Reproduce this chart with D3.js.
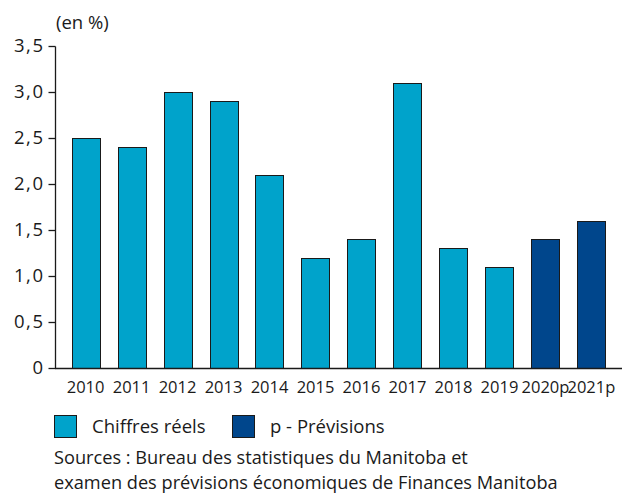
<!DOCTYPE html>
<html>
<head>
<meta charset="utf-8">
<script src="https://cdn.jsdelivr.net/npm/d3@7"></script>
<style>
body { margin: 0; background: #fff; }
text { font-family: "Open Sans", sans-serif; fill: #1a1a1a; }
</style>
</head>
<body>
<script>
// categories and values
var years = ["2010", "2011", "2012", "2013", "2014", "2015", "2016", "2017", "2018", "2019", "2020p", "2021p"];
var values = [2.5, 2.4, 3.0, 2.9, 2.1, 1.2, 1.4, 3.1, 1.3, 1.1, 1.4, 1.6];
var isForecast = [false, false, false, false, false, false, false, false, false, false, true, true];
var yTicks = [0, 0.5, 1.0, 1.5, 2.0, 2.5, 3.0, 3.5];
var legendLabels = ["Chiffres réels", "p - Prévisions"];
var sourceLines = ["Sources : Bureau des statistiques du Manitoba et",
                   "examen des prévisions économiques de Finances Manitoba"];

var lightBlue = "#00a3cb",
    darkBlue = "#00468c";

var width = 628, height = 498;
//plot area edges (not named top/left: window.top is read-only)
var plotLeft = 55, plotRight = 622, plotTop = 46, plotBottom = 368;

var svg = d3.select("body").append("svg")
    .attr("width", width)
    .attr("height", height);

var x = d3.scaleBand()
    .domain(years)
    .range([plotLeft, plotRight])
    .paddingInner(0.39)
    .paddingOuter(0.36);

var y = d3.scaleLinear()
    .domain([0, 3.5])
    .range([plotBottom, plotTop]);

// bars
svg.selectAll(".bar")
    .data(years)
    .enter()
    .append("rect")
    .attr("class", "bar")
    .attr("x", function(d){ return Math.round(x(d)) + 0.5; })
    .attr("width", Math.round(x.bandwidth()))
    .attr("y", function(d, i){ return Math.round(y(values[i])) + 0.5; })
    .attr("height", function(d, i){ return Math.round(plotBottom - y(values[i])); })
    .style("fill", function(d, i){ return isForecast[i] ? darkBlue : lightBlue; })
    .style("stroke", "#1a1a1a")
    .style("stroke-width", 1);

// y axis
var yAxis = d3.axisLeft(y)
    .tickValues(yTicks)
    .tickSize(7)
    .tickPadding(4)
    .tickFormat(function(d){ return d === 0 ? "0" : d3.format(".1f")(d).replace(".", ","); });

var gy = svg.append("g")
    .attr("transform", "translate(" + (plotLeft + 0.5) + ",0)")
    .call(yAxis);
gy.select(".domain").attr("d", "M0," + (plotTop + 0.5) + "V" + (plotBottom + 0.5)).style("stroke", "#1a1a1a").style("stroke-width", 1.3);
gy.selectAll(".tick line").style("stroke", "#1a1a1a").style("stroke-width", 1.3);
gy.selectAll(".tick text")
    .style("font-size", "18.5px")
    .style("letter-spacing", "1.5px")
    .style("font-family", "'Open Sans', sans-serif")
    .style("fill", "#1a1a1a");

// x axis
var xAxis = d3.axisBottom(x).tickSize(0).tickPadding(13);
var gx = svg.append("g")
    .attr("transform", "translate(0," + (plotBottom + 0.5) + ")")
    .call(xAxis);
gx.select(".domain").attr("d", "M" + plotLeft + ",0H" + plotRight).style("stroke", "#1a1a1a").style("stroke-width", 1.5);
gx.selectAll(".tick text")
    .style("font-size", "16.5px")
    .style("font-family", "'Open Sans', sans-serif")
    .style("fill", "#1a1a1a");

// unit label
svg.append("text")
    .attr("x", 56)
    .attr("y", 29)
    .style("font-size", "18.5px")
    .text("(en %)");

// legend
var legendX = [54, 232];
var legend = svg.selectAll(".legend")
    .data(legendLabels)
    .enter()
    .append("g")
    .attr("class", "legend")
    .attr("transform", function(d, i){ return "translate(" + legendX[i] + ",415)"; });

legend.append("rect")
    .attr("x", 0.5).attr("y", 0.5)
    .attr("width", 22).attr("height", 22)
    .style("fill", function(d, i){ return i === 0 ? lightBlue : darkBlue; })
    .style("stroke", "#1a1a1a");

legend.append("text")
    .attr("x", 38)
    .attr("y", 18)
    .style("font-size", "18.5px")
    .text(function(d){ return d; });

// sources
svg.selectAll(".source")
    .data(sourceLines)
    .enter()
    .append("text")
    .attr("class", "source")
    .attr("x", 54)
    .attr("y", function(d, i){ return 464 + i * 25; })
    .style("font-size", "18.2px")
    .text(function(d){ return d; });
</script>
</body>
</html>
